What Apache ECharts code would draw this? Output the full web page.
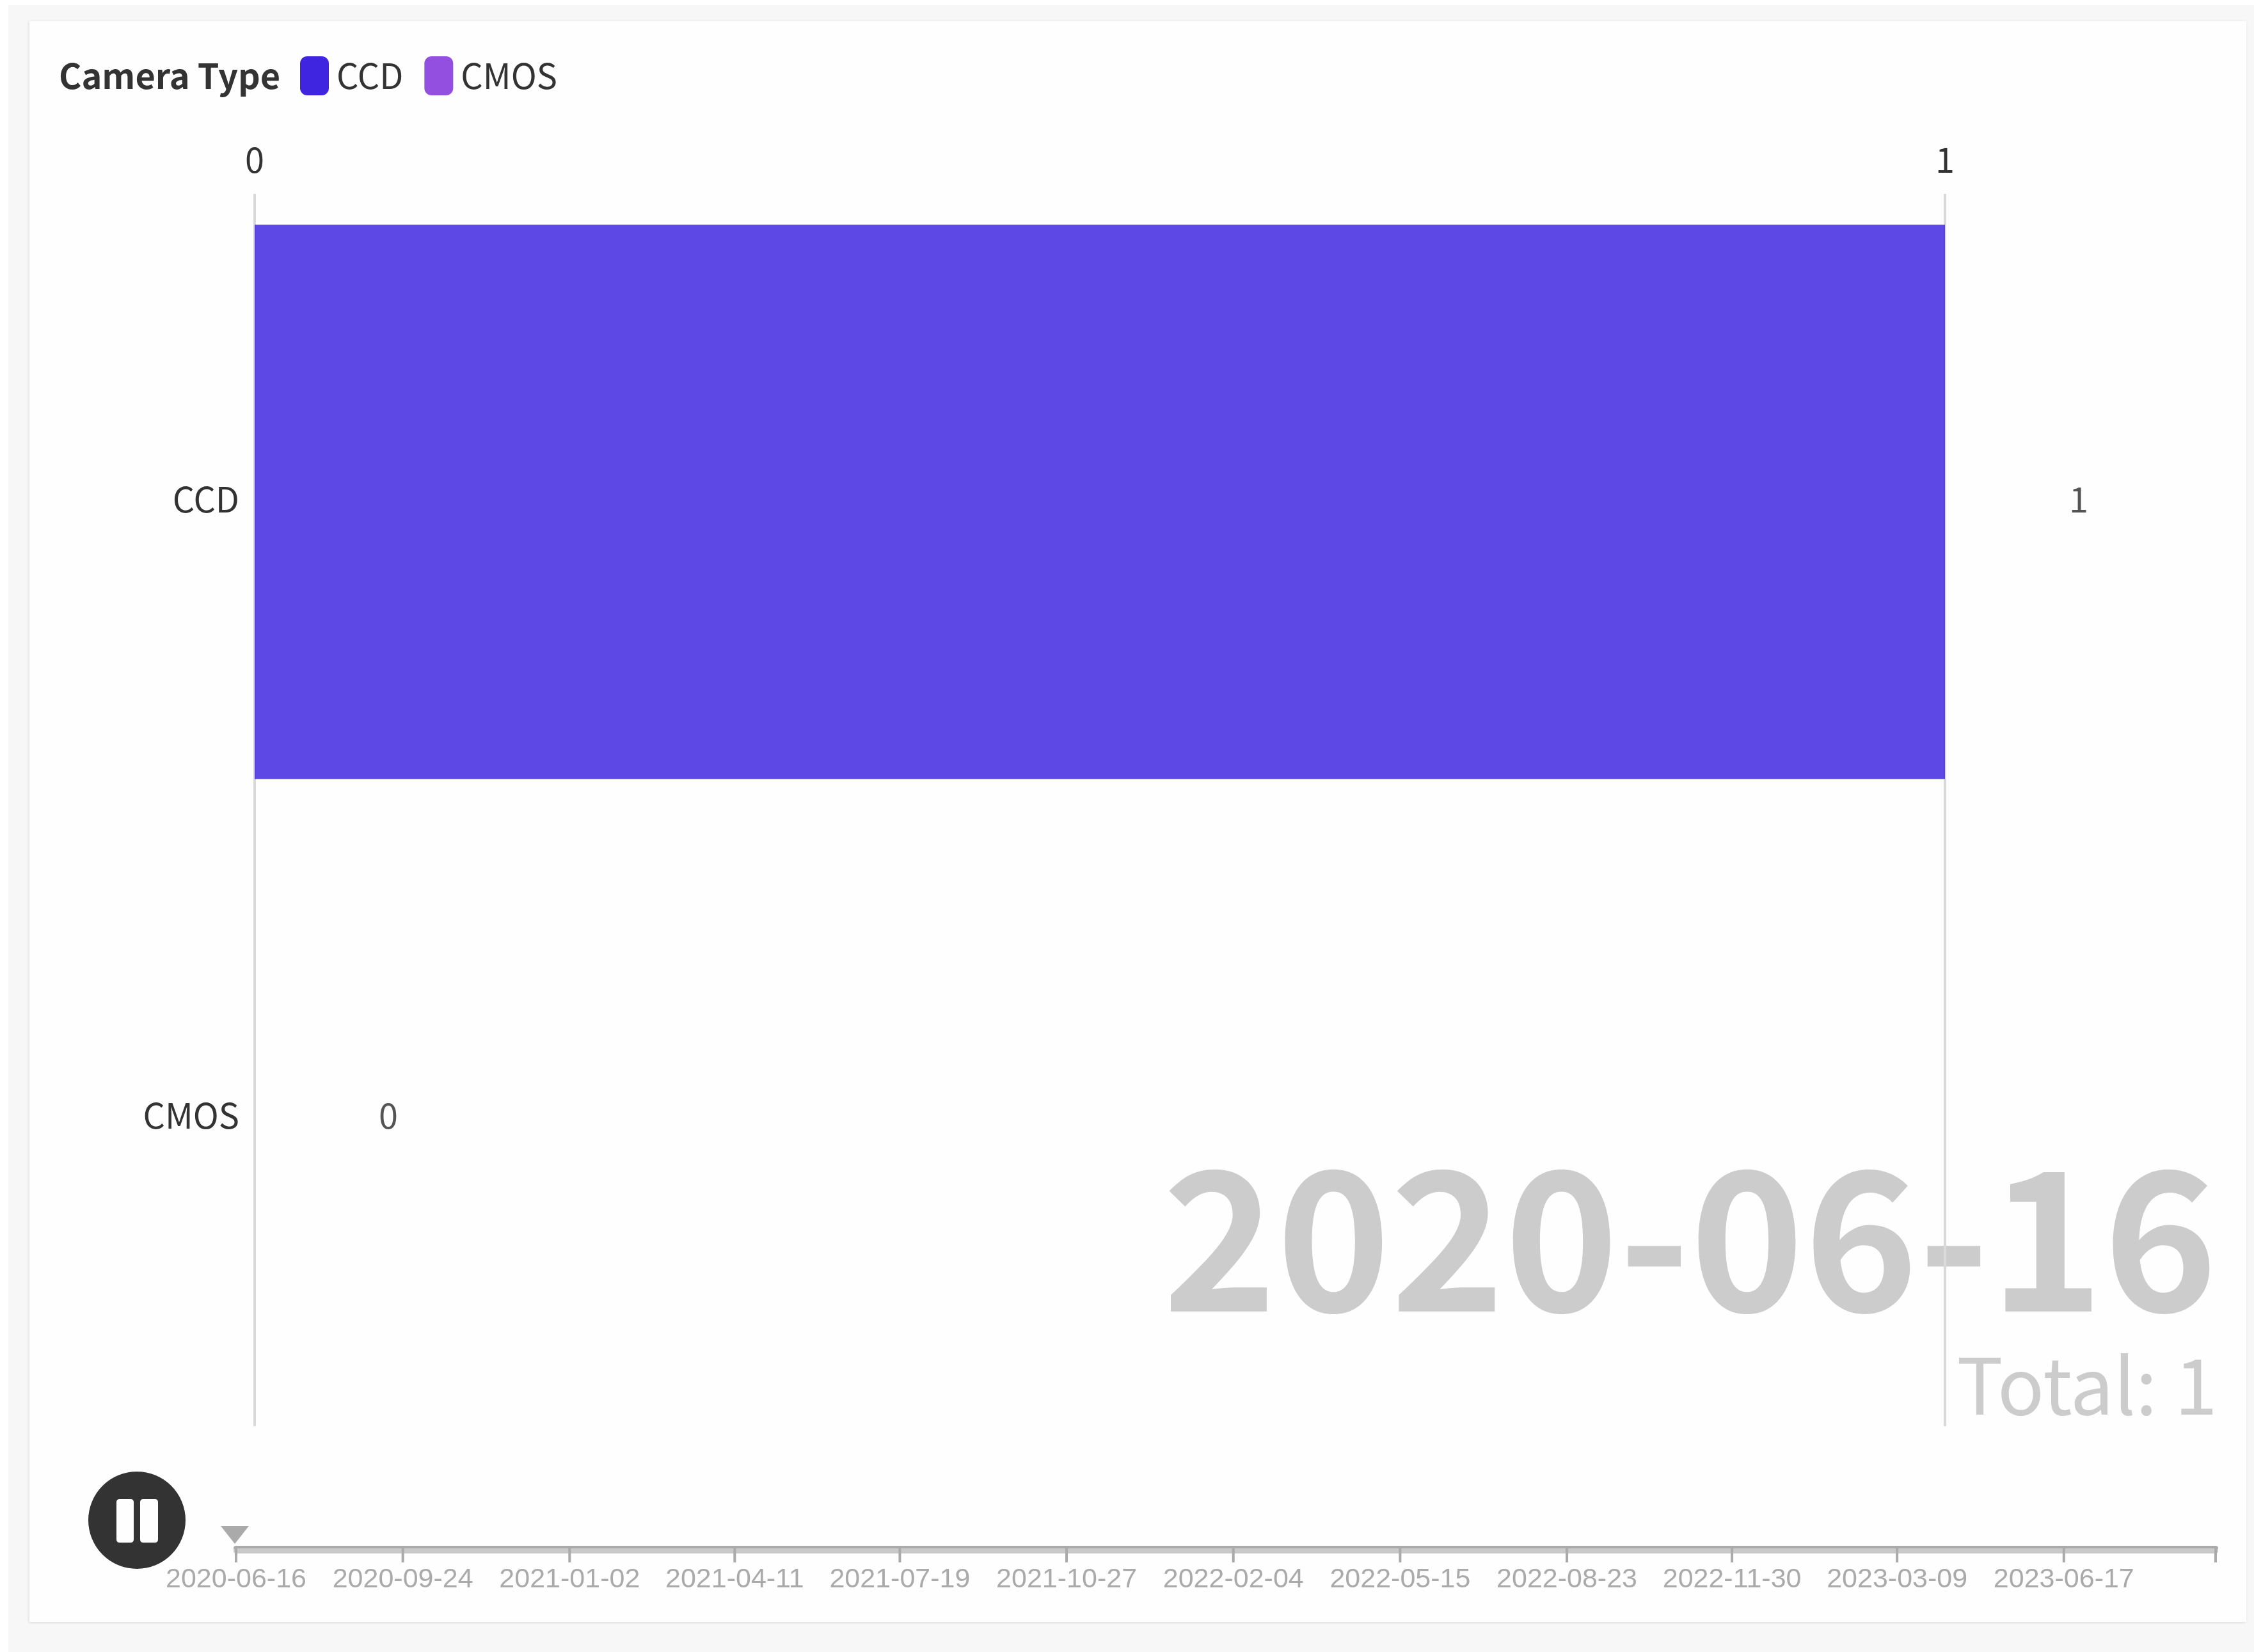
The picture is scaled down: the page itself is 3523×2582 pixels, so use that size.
<!DOCTYPE html>
<html>
<head>
<meta charset="utf-8">
<script src="https://cdn.jsdelivr.net/npm/echarts@6/dist/echarts.min.js"></script>
<style>
  html, body { margin: 0; padding: 0; width: 3523px; height: 2582px; background: #fff; overflow: hidden; }
  #page { position: absolute; left: 13px; top: 8px; right: 0; bottom: 0; background: #f7f7f7; }
  #card { position: absolute; left: 46px; top: 33px; width: 3465px; height: 2502px; background: #fefefe; box-shadow: -1px 1px 4px rgba(0,0,0,.12); }
  #chart { position: absolute; left: 0; top: 0; width: 3523px; height: 2582px; }
</style>
</head>
<body>
<div id="page"></div>
<div id="card"></div>
<div id="chart"></div>
<script>
// Camera counts per type at the current timeline frame
const cameraTypes = ['CCD', 'CMOS'];
const ccdValues = [1, '-'];
const cmosValues = ['-', 0];
const axisTicks = [0, 1];
const seriesColors = ['#3f25e0', '#9350e0'];
const legendTitle = 'Camera Type';
const timelineDates = [
  '2020-06-16', '2020-09-24', '2021-01-02', '2021-04-11', '2021-07-19',
  '2021-10-27', '2022-02-04', '2022-05-15', '2022-08-23', '2022-11-30',
  '2023-03-09', '2023-06-17', '2023-09-16'
];
const currentDate = timelineDates[0];
const totalCount = [...ccdValues, ...cmosValues].filter(v => v !== '-').reduce((a, b) => a + b, 0);

const FONT = '"Noto Sans CJK SC", "Noto Sans", sans-serif';
const INK = '#333';
const WATERMARK = '#ccc';

// Round button with two knocked-out pause bars (inner rects wound the other way).
// The empty subpath at the bottom keeps the button raised above the timeline axis.
const pauseIcon = 'path://M76 0A76 76 0 1 1 76 152A76 76 0 1 1 76 0Z' +
  'M49 43Q44 43 44 48V106Q44 111 49 111H66Q71 111 71 106V48Q71 43 66 43Z' +
  'M86 43Q81 43 81 48V106Q81 111 86 111H104Q109 111 109 106V48Q109 43 104 43Z' +
  'M76 248L76 248Z';

const valueLabel = {
  show: true, position: 'right', distance: 193, offset: [1, -4],
  fontFamily: FONT, fontSize: 54, color: INK
};

const chart = echarts.init(document.getElementById('chart'), null, { renderer: 'canvas' });
chart.setOption({
  animation: false,
  color: seriesColors,
  title: {
    text: legendTitle, left: 92, top: 91, padding: 0,
    textStyle: { fontFamily: FONT, fontSize: 54, fontWeight: 'bold', color: INK }
  },
  legend: {
    left: 469, top: 88, padding: 0,
    itemWidth: 45, itemHeight: 61, itemGap: 33, icon: 'roundRect',
    itemStyle: { opacity: 1 },
    textStyle: { fontFamily: FONT, fontSize: 54, color: INK, padding: [0, 0, 4, 7] },
    data: cameraTypes
  },
  grid: { left: 398, top: 303, width: 2642, height: 1926, containLabel: false },
  xAxis: {
    type: 'value', position: 'top', min: axisTicks[0], max: axisTicks[1], interval: 1,
    axisLine: { show: false }, axisTick: { show: false },
    axisLabel: { fontFamily: FONT, fontSize: 54, color: INK, margin: 27 },
    splitLine: { show: true, lineStyle: { color: '#d9d9d9', width: 4 } }
  },
  yAxis: {
    type: 'category', inverse: true, data: cameraTypes,
    axisLine: { show: false }, axisTick: { show: false },
    axisLabel: {
      fontFamily: FONT, fontSize: 54, color: INK, margin: 24,
      verticalAlign: 'bottom', lineHeight: 8
    },
    splitLine: { show: false }
  },
  series: [
    { name: cameraTypes[0], type: 'bar', stack: 'count', barWidth: '90%', data: ccdValues,
      itemStyle: { opacity: 0.84 }, label: valueLabel },
    { name: cameraTypes[1], type: 'bar', stack: 'count', barWidth: '90%', data: cmosValues,
      itemStyle: { opacity: 0.84 }, label: valueLabel }
  ],
  timeline: {
    axisType: 'value',
    data: timelineDates.map(d => Date.parse(d)),
    currentIndex: 0,
    autoPlay: false,
    left: 90, right: 60, top: 2300, height: 248, padding: 0,
    controlStyle: {
      show: true, showPlayBtn: true, showPrevBtn: false, showNextBtn: false,
      playIcon: pauseIcon,
      itemSize: 248, itemGap: 31, position: 'left',
      color: INK, borderColor: INK, borderWidth: 0
    },
    lineStyle: { color: '#c9c9c9', width: 8, shadowColor: '#aaa', shadowBlur: 0, shadowOffsetY: -4 },
    symbol: 'rect', symbolSize: [4, 25], symbolOffset: [0, 5.5],
    itemStyle: { color: '#aaa', borderWidth: 0 },
    // The pointer is measured from the timeline's left edge, so it is pushed past the button
    checkpointStyle: {
      symbol: 'path://M0 0H44L22 28Z', symbolSize: [44, 28], symbolOffset: [277, -25],
      color: '#aaa', borderWidth: 0, animation: true, animationDuration: 0
    },
    label: {
      position: 24, interval: 0,
      fontFamily: '"Liberation Sans", Arial, sans-serif', fontSize: 43, color: '#aaa',
      formatter: v => {
        const iso = echarts.time.format(Number(v), '{yyyy}-{MM}-{dd}', true);
        return iso === timelineDates[timelineDates.length - 1] ? '' : iso;
      }
    },
    emphasis: { label: { color: '#aaa' }, itemStyle: { color: '#aaa' } },
    progress: { lineStyle: { color: '#c9c9c9' }, itemStyle: { color: '#aaa' }, label: { color: '#aaa' } }
  },
  graphic: [
    { type: 'text', z: -1, right: 57, top: 1784,
      style: { text: currentDate, fontFamily: FONT, fontSize: 302, fontWeight: 'bold', fill: WATERMARK } },
    { type: 'text', z: -1, right: 57, top: 2105,
      style: { text: 'Total: ' + totalCount, fontFamily: FONT, fontSize: 121, fill: WATERMARK } }
  ]
});
</script>
</body>
</html>
